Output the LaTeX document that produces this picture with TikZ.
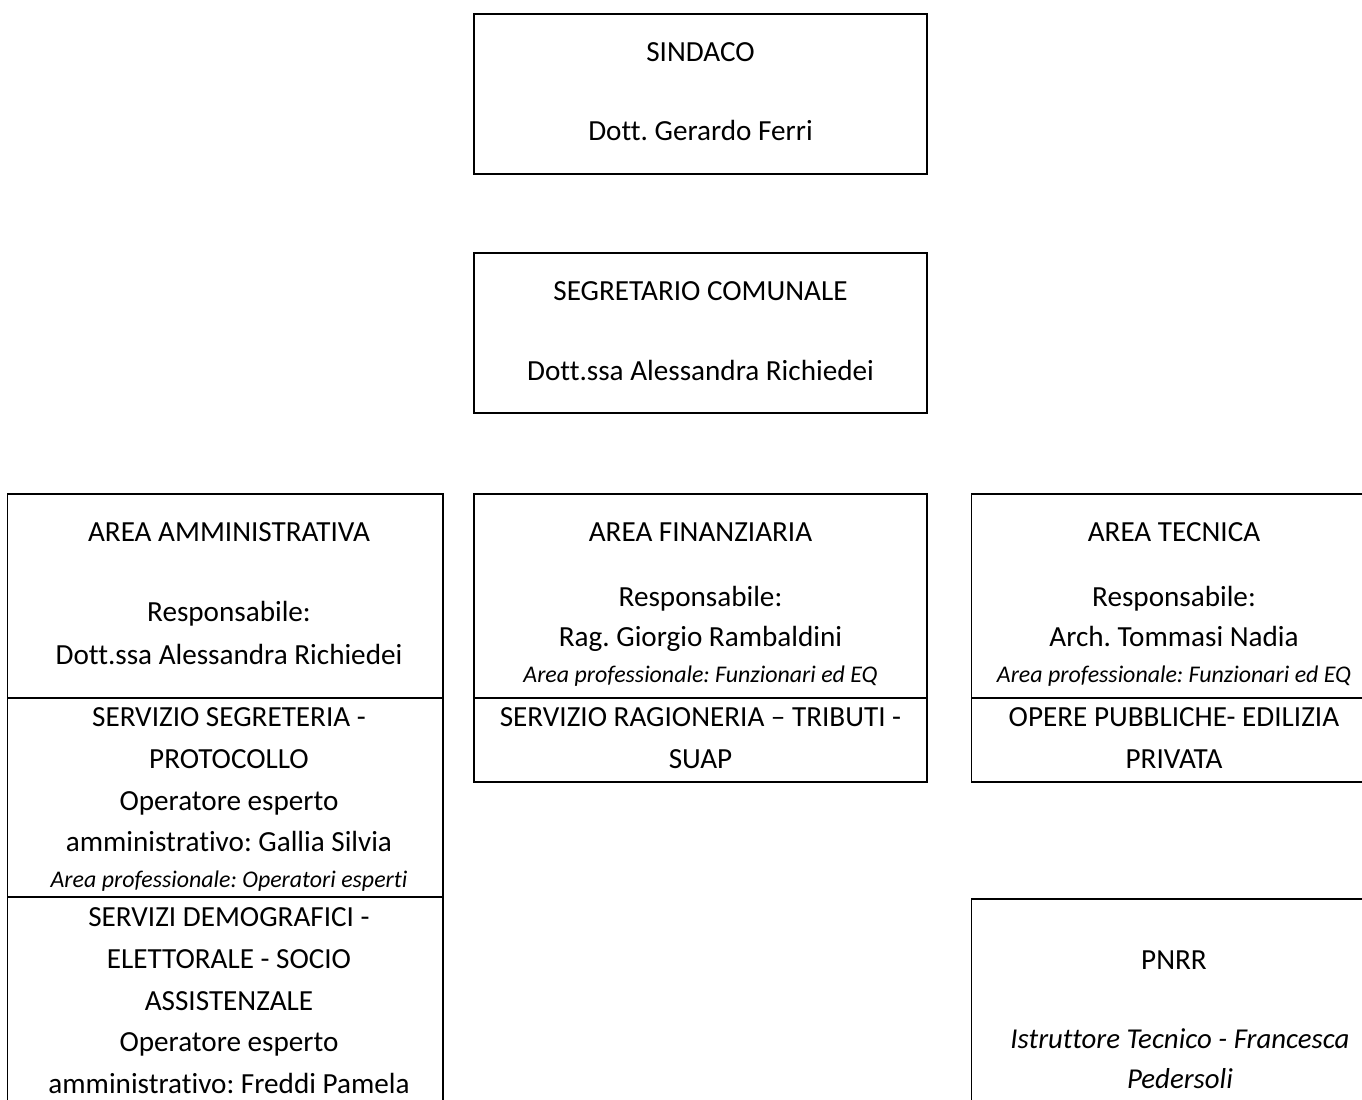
\documentclass[tikz,border=0pt]{standalone}
\usepackage{fontspec}
\setmainfont{Carlito}[Ligatures=NoCommon]
\frenchspacing

\begin{document}
\begin{tikzpicture}[x=0.02cm,y=-0.02cm,line width=0.85pt,
every node/.style={anchor=base,inner sep=0pt,font=\fontsize{16.6}{20}\selectfont},
eq/.style={font=\itshape\fontsize{13.6}{16}\selectfont},
pn/.style={font=\itshape\fontsize{16.4}{20}\selectfont}]
\useasboundingbox (0,0) rectangle (1362,1099);
\clip (0,0) rectangle (1362,1099);
\draw (474,14) rectangle (927,174) (474,253) rectangle (927,413)
(7.5,1110)--(7.5,494)--(443,494)--(443,1110) (7.5,698)--(443,698) (7.5,897)--(443,897)
(474,494) rectangle (927,782) (474,698)--(927,698)
(1380,494)--(971.5,494)--(971.5,782)--(1380,782) (971.5,698)--(1380,698)
(1380,899)--(971.5,899)--(971.5,1110)
;
\path
(700.5,61.7)  node[] (s1) {SINDACO}
+(0,79)       node[] (s2) {Dott. Gerardo Ferri}
(700.5,300)   node[] (g1) {SEGRETARIO COMUNALE}
+(0,80)       node[] (g2) {Dott.ssa Alessandra Richiedei}
(229,541)     node[] (a1) {AREA AMMINISTRATIVA}
+(0,80.7)     node[] (a2) {Responsabile:}
+(0,123)      node[] (a3) {Dott.ssa Alessandra Richiedei}
(229,726.7)   node[] (a4) {SERVIZIO SEGRETERIA -}
+(0,41.6)     node[] (a5) {PROTOCOLLO}
+(0,83.3)     node[] (a6) {Operatore esperto}
+(0,125)      node[] (a7) {amministrativo: Gallia Silvia}
+(0,160.3)    node[eq] (a8) {Area professionale: Operatori esperti}
(229,926.7)   node[] (a9) {SERVIZI DEMOGRAFICI -}
+(0,41.7)     node[] (a10) {ELETTORALE - SOCIO}
+(0,83.4)     node[] (a11) {ASSISTENZALE}
+(0,125.1)    node[] (a12) {Operatore esperto}
+(0,166.8)    node[] (a13) {amministrativo: Freddi Pamela}
(700.5,541)   node[] (f1) {AREA FINANZIARIA}
+(0,65)       node[] (f2) {Responsabile:}
+(0,105.7)    node[] (f3) {Rag. Giorgio Rambaldini}
+(0,141.3)    node[eq] (f4) {Area professionale: Funzionari ed EQ}
(700.5,726.7) node[] (f5) {SERVIZIO RAGIONERIA – TRIBUTI -}
+(0,41.6)     node[] (f6) {SUAP}
(1174,541)    node[] (t1) {AREA TECNICA}
+(0,65)       node[] (t2) {Responsabile:}
+(0,105.7)    node[] (t3) {Arch. Tommasi Nadia}
+(0,141.3)    node[eq] (t4) {Area professionale: Funzionari ed EQ}
(1174,726.7)  node[] (t5) {OPERE PUBBLICHE- EDILIZIA}
+(0,41.6)     node[] (t6) {PRIVATA}
(1174,969.3)  node[] (p1) {PNRR}
(1180,1048.3) node[pn] (p2) {Istruttore Tecnico - Francesca}
+(0,40)       node[pn] (p3) {Pedersoli}
;
\end{tikzpicture}
\end{document}
